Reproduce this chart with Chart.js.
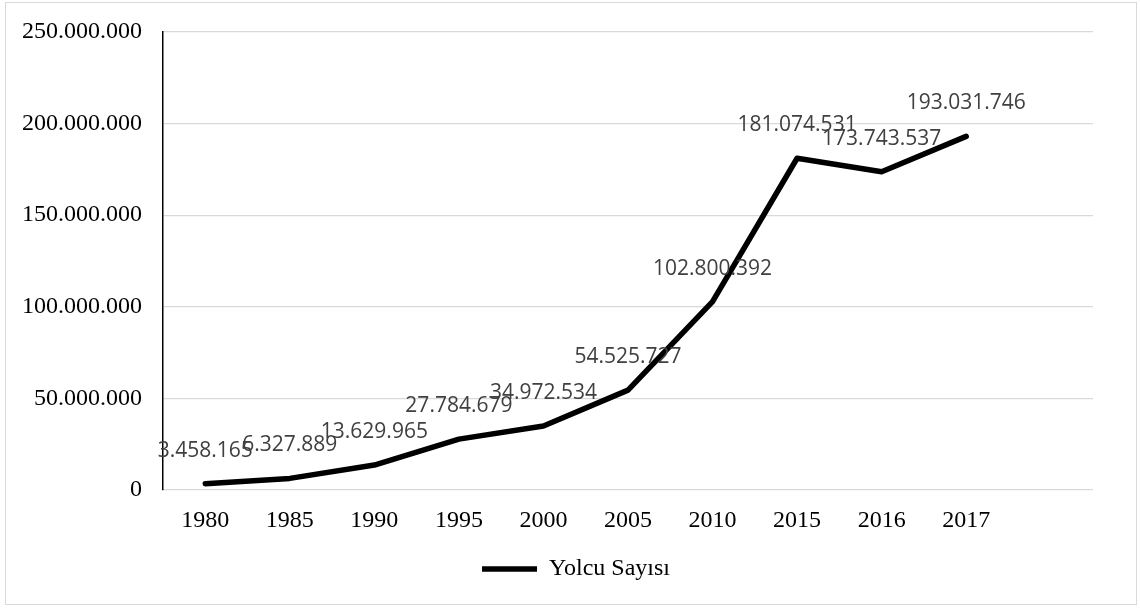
<!DOCTYPE html>
<html>
<head>
<meta charset="utf-8">
<script src="https://cdn.jsdelivr.net/npm/chart.js@4.4.1/dist/chart.umd.min.js"></script>
<style>
  html, body { margin:0; padding:0; background:#fff; }
  #box {
    position:absolute; left:5px; top:2px;
    width:1130px; height:601px;
    border:1px solid #d9d9d9;
  }
  canvas { display:block; }
</style>
</head>
<body>
<div id="box"><canvas id="chart" width="1130" height="601"></canvas></div>
<script>
/* ---- data ---- */
const years = ["1980","1985","1990","1995","2000","2005","2010","2015","2016","2017"];
const passengers = [3458165, 6327889, 13629965, 27784679, 34972534, 54525727, 102800392, 181074531, 173743537, 193031746];
const seriesName = "Yolcu Sayısı";
const yTicks = [0, 50000000, 100000000, 150000000, 200000000, 250000000];

const fmt = v => v.toLocaleString('de-DE');

// value labels above each point
const valueLabels = {
  id:'valueLabels',
  afterDatasetsDraw(chart){
    const ctx = chart.ctx;
    const meta = chart.getDatasetMeta(0);
    ctx.save();
    ctx.font = '21px "Open Sans"';
    ctx.fillStyle = '#404040';
    ctx.textAlign = 'center';
    ctx.textBaseline = 'middle';
    meta.data.forEach((pt, i) => {
      ctx.fillText(fmt(passengers[i]), pt.x, pt.y - 33);
    });
    ctx.restore();
  }
};

new Chart(document.getElementById("chart"), {
  type:"line",
  data:{
    labels:[...years, ""],
    datasets:[{
      label:seriesName,
      data:passengers,
      borderColor:"#000",
      backgroundColor:"#000",
      borderWidth:5.5,
      borderJoinStyle:'round',
      borderCapStyle:'round',
      pointRadius:0,
      tension:0
    }]
  },
  options:{
    responsive:false,
    animation:false,
    layout:{padding:{left:10, right:0, top:29, bottom:13}},
    plugins:{
      legend:{
        position:'bottom',
        labels:{
          usePointStyle:true,
          pointStyle:'line',
          pointStyleWidth:55,
          color:'#000',
          font:{family:'"Liberation Serif"', size:24},
          padding:10
        }
      },
      tooltip:{enabled:false}
    },
    scales:{
      x:{
        offset:true,
        grid:{display:false},
        border:{display:false},
        ticks:{color:'#000', padding:8, maxRotation:0, autoSkip:false,
               font:{family:'"Liberation Serif"', size:24}},
        afterFit(s){ s.height = 57; s.paddingLeft = 0; s.paddingRight = 43; }
      },
      y:{
        min:0, max:250000000,
        afterBuildTicks(s){ s.ticks = yTicks.map(v => ({value:v})); },
        grid:{color:'#d9d9d9', lineWidth:1.3, drawTicks:false},
        border:{color:'#000', width:1.5},
        ticks:{color:'#000', padding:21, callback:v => fmt(v),
               font:{family:'"Liberation Serif"', size:24}},
        afterFit(s){ s.width = 147; s.paddingTop = 0; s.paddingBottom = 0; }
      }
    }
  },
  plugins:[valueLabels]
});
</script>
</body>
</html>
